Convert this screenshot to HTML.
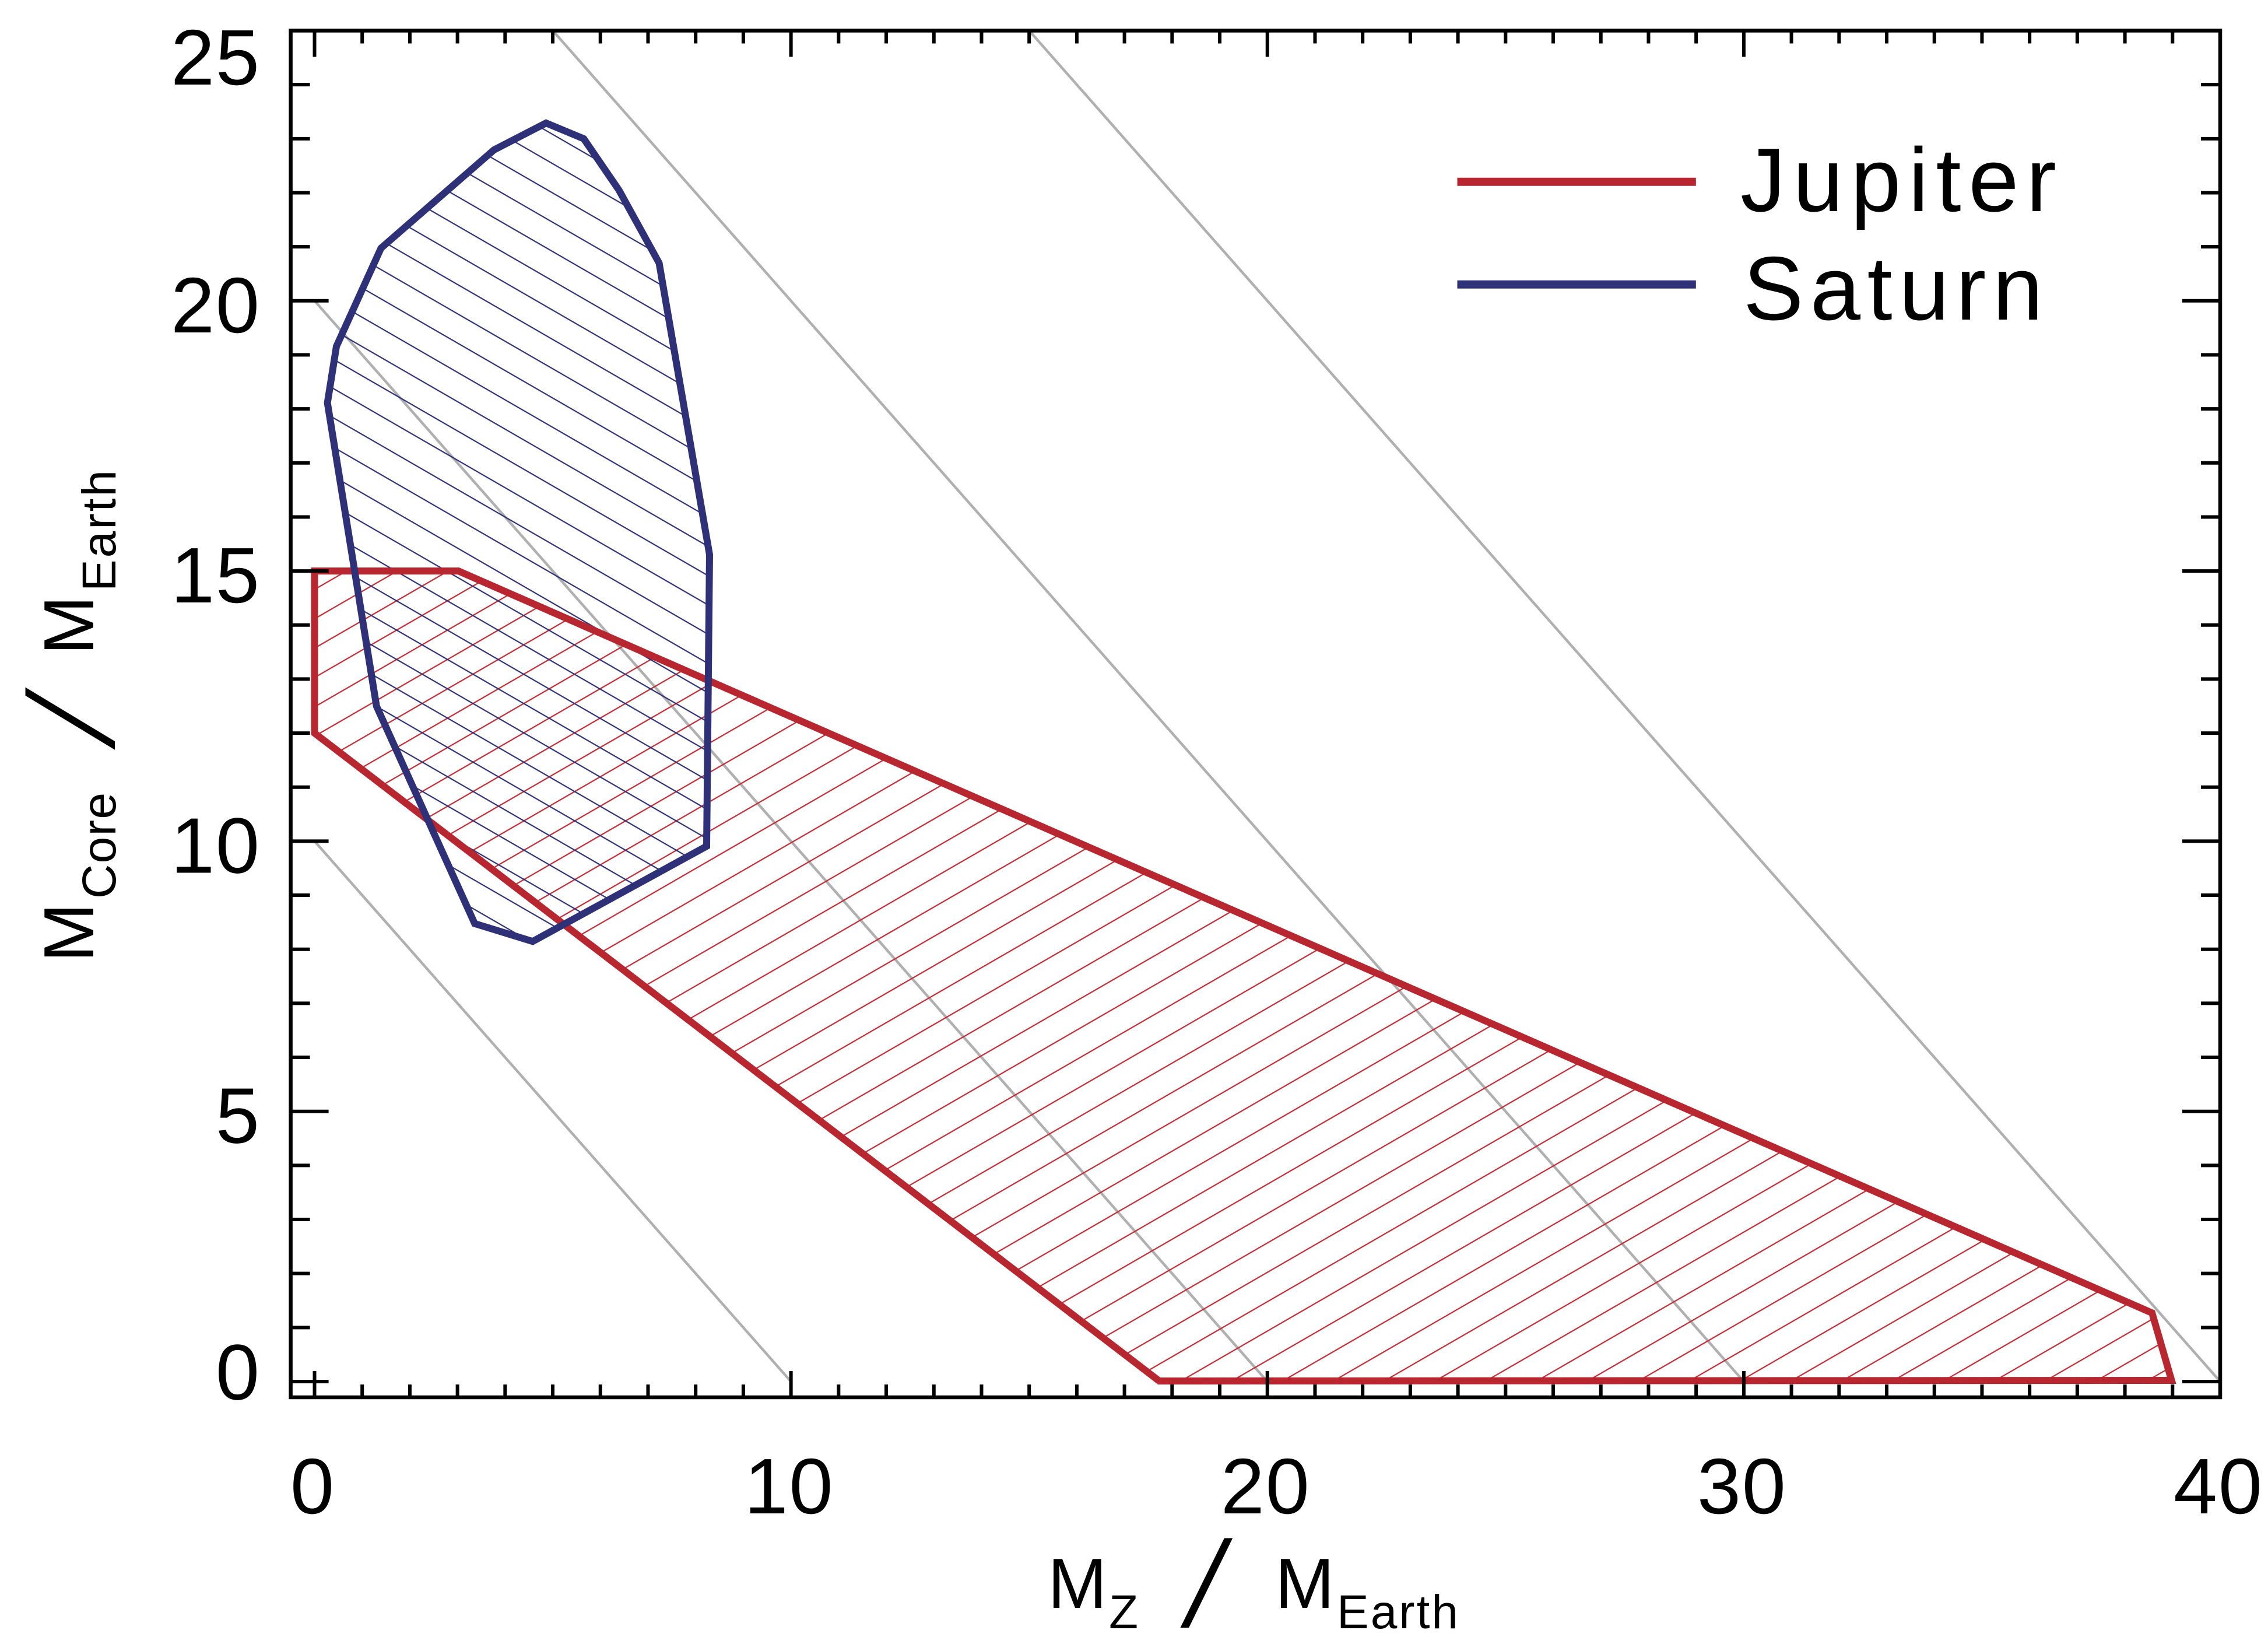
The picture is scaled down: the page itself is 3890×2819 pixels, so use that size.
<!DOCTYPE html>
<html>
<head>
<meta charset="utf-8">
<style>
html,body{margin:0;padding:0;background:#fff;}
svg{display:block;}
text{font-family:"Liberation Sans","DejaVu Sans",sans-serif;fill:#000;}
</style>
</head>
<body>
<svg width="3890" height="2819" viewBox="0 0 3890 2819" xmlns="http://www.w3.org/2000/svg">
<defs>
  <pattern id="rh" patternUnits="userSpaceOnUse" width="400" height="43.6" patternTransform="rotate(-30)">
    <rect x="0" y="10.4" width="400" height="2.2" fill="#c42a33"/>
  </pattern>
  <pattern id="bh" patternUnits="userSpaceOnUse" width="400" height="43.5" patternTransform="rotate(30)">
    <rect x="0" y="29" width="400" height="2.2" fill="#2e3177"/>
  </pattern>
</defs>
<rect x="0" y="0" width="3890" height="2819" fill="#fff"/>

<!-- gray guide lines x+y=C -->
<g stroke="#b0b0b0" stroke-width="4.5" fill="none">
  <line x1="539.5" y1="1442.4" x2="1356.63" y2="2369"/>
  <line x1="539.5" y1="515.8" x2="2173.75" y2="2369"/>
  <line x1="948.06" y1="52.5" x2="2990.88" y2="2369"/>
  <line x1="1765.19" y1="52.5" x2="3808" y2="2369"/>
</g>

<!-- hatch fills -->
<polygon points="539.5,979.1 786.3,979.1 3691.1,2251.3 3724.6,2367 1988.2,2368 539.5,1257.1" fill="url(#rh)" stroke="none"/>
<polygon points="936.6,211 1001.2,237.8 1061.6,326 1130.5,451 1217,951 1212,1451 913.7,1614.3 814.2,1583.7 645.8,1211 561.6,690.8 577,594 653.5,425.5 847.3,257" fill="url(#bh)" stroke="none"/>

<!-- outlines -->
<polygon points="539.5,979.1 786.3,979.1 3691.1,2251.3 3724.6,2367 1988.2,2368 539.5,1257.1" fill="none" stroke="#b8262f" stroke-width="12" stroke-linejoin="miter" stroke-miterlimit="4"/>
<polygon points="936.6,211 1001.2,237.8 1061.6,326 1130.5,451 1217,951 1212,1451 913.7,1614.3 814.2,1583.7 645.8,1211 561.6,690.8 577,594 653.5,425.5 847.3,257" fill="none" stroke="#2e3177" stroke-width="12" stroke-linejoin="miter" stroke-miterlimit="4"/>

<!-- axes box -->
<rect x="498.6" y="52.5" width="3309.4" height="2343.5" fill="none" stroke="#000" stroke-width="6.5"/>

<!-- ticks -->
<g stroke="#000" stroke-width="6" fill="none">
<path d="M539.5 2396v-45 M621.21 2396v-22 M702.93 2396v-22 M784.64 2396v-22 M866.35 2396v-22 M948.06 2396v-22 M1029.78 2396v-22 M1111.49 2396v-22 M1193.2 2396v-22 M1274.91 2396v-22 M1356.63 2396v-45 M1438.34 2396v-22 M1520.05 2396v-22 M1601.76 2396v-22 M1683.48 2396v-22 M1765.19 2396v-22 M1846.9 2396v-22 M1928.61 2396v-22 M2010.33 2396v-22 M2092.04 2396v-22 M2173.75 2396v-45 M2255.46 2396v-22 M2337.18 2396v-22 M2418.89 2396v-22 M2500.6 2396v-22 M2582.31 2396v-22 M2664.03 2396v-22 M2745.74 2396v-22 M2827.45 2396v-22 M2909.16 2396v-22 M2990.88 2396v-45 M3072.59 2396v-22 M3154.3 2396v-22 M3236.01 2396v-22 M3317.73 2396v-22 M3399.44 2396v-22 M3481.15 2396v-22 M3562.86 2396v-22 M3644.58 2396v-22 M3726.29 2396v-22 M3808 2396v-45"/>
<path d="M539.5 52.5v45 M621.21 52.5v22 M702.93 52.5v22 M784.64 52.5v22 M866.35 52.5v22 M948.06 52.5v22 M1029.78 52.5v22 M1111.49 52.5v22 M1193.2 52.5v22 M1274.91 52.5v22 M1356.63 52.5v45 M1438.34 52.5v22 M1520.05 52.5v22 M1601.76 52.5v22 M1683.48 52.5v22 M1765.19 52.5v22 M1846.9 52.5v22 M1928.61 52.5v22 M2010.33 52.5v22 M2092.04 52.5v22 M2173.75 52.5v45 M2255.46 52.5v22 M2337.18 52.5v22 M2418.89 52.5v22 M2500.6 52.5v22 M2582.31 52.5v22 M2664.03 52.5v22 M2745.74 52.5v22 M2827.45 52.5v22 M2909.16 52.5v22 M2990.88 52.5v45 M3072.59 52.5v22 M3154.3 52.5v22 M3236.01 52.5v22 M3317.73 52.5v22 M3399.44 52.5v22 M3481.15 52.5v22 M3562.86 52.5v22 M3644.58 52.5v22 M3726.29 52.5v22 M3808 52.5v45"/>
<path d="M498.6 2369h65 M498.6 2276.34h33 M498.6 2183.68h33 M498.6 2091.02h33 M498.6 1998.36h33 M498.6 1905.7h65 M498.6 1813.04h33 M498.6 1720.38h33 M498.6 1627.72h33 M498.6 1535.06h33 M498.6 1442.4h65 M498.6 1349.74h33 M498.6 1257.08h33 M498.6 1164.42h33 M498.6 1071.76h33 M498.6 979.1h65 M498.6 886.44h33 M498.6 793.78h33 M498.6 701.12h33 M498.6 608.46h33 M498.6 515.8h65 M498.6 423.14h33 M498.6 330.48h33 M498.6 237.82h33 M498.6 145.16h33 M498.6 52.5h65"/>
<path d="M3808 2369h-65 M3808 2276.34h-33 M3808 2183.68h-33 M3808 2091.02h-33 M3808 1998.36h-33 M3808 1905.7h-65 M3808 1813.04h-33 M3808 1720.38h-33 M3808 1627.72h-33 M3808 1535.06h-33 M3808 1442.4h-65 M3808 1349.74h-33 M3808 1257.08h-33 M3808 1164.42h-33 M3808 1071.76h-33 M3808 979.1h-65 M3808 886.44h-33 M3808 793.78h-33 M3808 701.12h-33 M3808 608.46h-33 M3808 515.8h-65 M3808 423.14h-33 M3808 330.48h-33 M3808 237.82h-33 M3808 145.16h-33 M3808 52.5h-65"/>
</g>

<!-- y tick labels -->
<g font-size="135" text-anchor="end">
  <text x="445" y="145" textLength="152" lengthAdjust="spacing">25</text>
  <text x="445" y="570" textLength="152" lengthAdjust="spacing">20</text>
  <text x="445" y="1033" textLength="152" lengthAdjust="spacing">15</text>
  <text x="445" y="1496.5" textLength="152" lengthAdjust="spacing">10</text>
  <text x="445" y="1959.5">5</text>
  <text x="445" y="2399.5">0</text>
</g>

<!-- x tick labels -->
<g font-size="135" text-anchor="middle">
  <text x="535.5" y="2595">0</text>
  <text x="1352.6" y="2595" textLength="152" lengthAdjust="spacing">10</text>
  <text x="2169.8" y="2595" textLength="152" lengthAdjust="spacing">20</text>
  <text x="2986.9" y="2595" textLength="152" lengthAdjust="spacing">30</text>
  <text x="3804" y="2595" textLength="152" lengthAdjust="spacing">40</text>
</g>

<!-- x axis title -->
<g>
  <text x="1797" y="2757" font-size="122">M</text>
  <text x="1902" y="2792" font-size="82">Z</text>
  <text transform="translate(2025,2789) skewX(-14) scale(1,1.13)" font-size="185">/</text>
  <text x="2187" y="2757" font-size="122">M</text>
  <text x="2293" y="2792" font-size="82" textLength="208" lengthAdjust="spacing">Earth</text>
</g>

<!-- y axis title -->
<g transform="translate(160,1641) rotate(-90)">
  <text x="-9" y="0" font-size="122">M</text>
  <text x="100" y="38" font-size="82" textLength="182" lengthAdjust="spacing">Core</text>
  <text transform="translate(356,35) skewX(-20) scale(1,1.13)" font-size="185">/</text>
  <text x="518" y="0" font-size="122">M</text>
  <text x="627" y="38" font-size="82" textLength="208" lengthAdjust="spacing">Earth</text>
</g>

<!-- legend -->
<line x1="2499.5" y1="311.8" x2="2908.8" y2="311.8" stroke="#b8262f" stroke-width="14"/>
<line x1="2499.5" y1="487.7" x2="2908.8" y2="487.7" stroke="#2e3177" stroke-width="14"/>
<text x="2985" y="362" font-size="155" textLength="542" lengthAdjust="spacing">Jupiter</text>
<text x="2990" y="548" font-size="155" textLength="514" lengthAdjust="spacing">Saturn</text>
</svg>
</body>
</html>
